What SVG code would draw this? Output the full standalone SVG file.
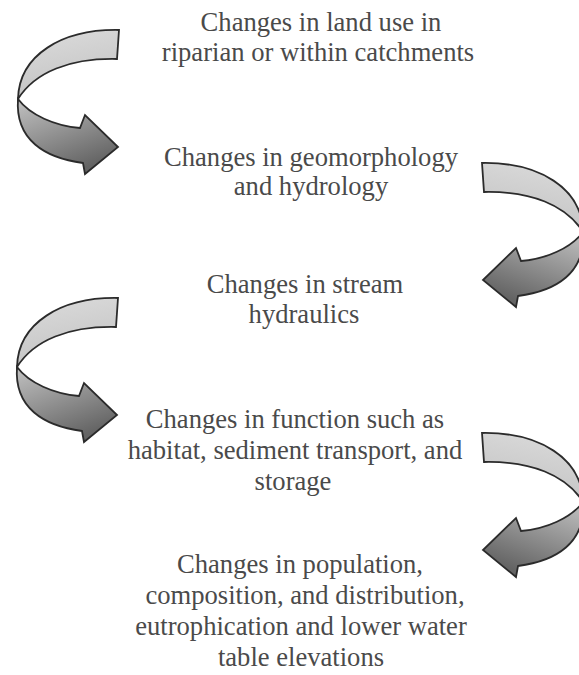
<svg xmlns="http://www.w3.org/2000/svg" xmlns:xlink="http://www.w3.org/1999/xlink" width="579" height="675" viewBox="0 0 579 675">
  <style>
    .band { stroke: #2b2b2b; stroke-width: 1.8; stroke-linejoin: miter; }
    .upper { fill: url(#gUpper); }
    .lower { fill: url(#gLower); }
  </style>
  <defs>
    <linearGradient id="gUpper" x1="0" y1="0" x2="0.3" y2="1">
      <stop offset="0" stop-color="#dcdcdc"/>
      <stop offset="1" stop-color="#c4c4c4"/>
    </linearGradient>
    <linearGradient id="gLower" x1="0" y1="0" x2="0.5" y2="1">
      <stop offset="0" stop-color="#c2c2c2"/>
      <stop offset="1" stop-color="#646464"/>
    </linearGradient>
    <g id="curl">
      <path class="band upper" d="M119,30 L117,59 C70,58 35,72 18,99 C19,55 62,29 119,30 Z"/>
      <path class="band lower" d="M18,99 C30,115 55,126 80,128 L85,115 L118,147 L85,174 L83,163 C45,158 15,140 18,99 Z"/>
    </g>
  </defs>

  <rect width="579" height="675" fill="#ffffff"/>

  <g id="connectors">
    <use id="arrow1" xlink:href="#curl"/>
    <use id="arrow2" xlink:href="#curl" transform="translate(601,133) scale(-1,1)"/>
    <use id="arrow3" xlink:href="#curl" transform="translate(-1,268)"/>
    <use id="arrow4" xlink:href="#curl" transform="translate(601,403) scale(-1,1)"/>
  </g>

  <g id="labels" font-family="'Liberation Serif', 'DejaVu Serif', 'Times New Roman', serif" font-size="26.6" fill="#4a4a4a" text-anchor="middle">
    <g id="node1">
      <text x="321" y="31">Changes in land use in</text>
      <text x="318" y="61">riparian or within catchments</text>
    </g>
    <g id="node2">
      <text x="311" y="166">Changes in geomorphology</text>
      <text x="311" y="195">and hydrology</text>
    </g>
    <g id="node3">
      <text x="305" y="293">Changes in stream</text>
      <text x="304" y="323">hydraulics</text>
    </g>
    <g id="node4">
      <text x="295" y="428">Changes in function such as</text>
      <text x="295" y="459">habitat, sediment transport, and</text>
      <text x="293" y="490">storage</text>
    </g>
    <g id="node5">
      <text x="300" y="573">Changes in population,</text>
      <text x="305" y="604">composition, and distribution,</text>
      <text x="301" y="635">eutrophication and lower water</text>
      <text x="301" y="666">table elevations</text>
    </g>
  </g>
</svg>
